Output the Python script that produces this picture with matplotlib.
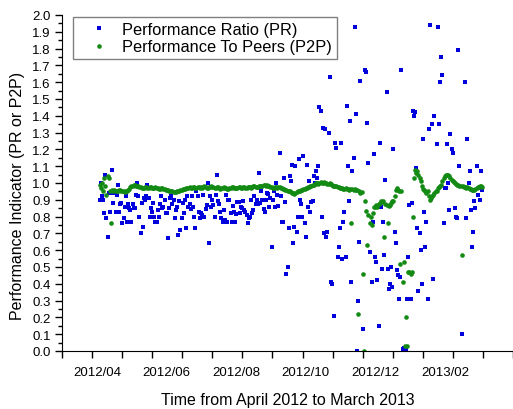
import numpy as np
import pandas as pd
import matplotlib
matplotlib.use("Agg")
import matplotlib.pyplot as plt
import matplotlib.dates as mdates
from matplotlib.ticker import AutoMinorLocator
from datetime import datetime

nan = np.nan

# Performance Ratio (PR), daily from 2012-04-03
pr_apr = [0.90, 1.00, 0.92, 0.90, 0.82, 1.05, 0.79, 0.68, 0.94, 0.83, 0.94, 1.08, 0.88, 0.94,
          0.83, 0.93, 0.99, 0.83, 0.875, 0.88, 0.76, 0.79, 0.86, 0.92, 0.77, 0.875, 0.85, 0.84]
pr_may = [0.77, 0.875, 0.85, 0.85, 0.93, 1.00, 0.92, 0.80, 0.70, 0.88, 0.74, 0.91, 0.90, 0.92,
          0.99, 0.91, 0.80, 0.85, 0.83, 0.88, 0.80, 0.77, 0.77, 0.84, 0.80, 0.875, 0.92, 0.85,
          0.86, 0.90, 0.82]
pr_jun = [0.82, 0.67, 0.85, 0.91, 0.92, 0.875, 0.90, 0.79, 0.84, 0.86, 0.69, 0.89, 0.72, 0.79,
          0.88, 0.82, 0.90, 0.73, 0.92, 0.86, 0.875, 0.845, 0.92, 0.86, 0.80, 0.73, 0.95, 0.92,
          0.83, 0.79]
pr_jul = [0.82, 0.81, 0.93, 0.80, 0.845, 0.87, 1.00, 0.64, 0.92, 0.86, 0.90, 0.87, 0.80, 0.93,
          1.05, 0.89, 0.875, 0.83, 0.79, 0.77, 0.84, 0.78, 0.93, 0.77, 0.90, 0.90, 0.82, 0.77,
          0.865, 0.83, 0.77]
pr_aug = [0.815, 0.885, 0.885, 0.82, 0.86, 0.85, 0.89, 0.84, 0.83, 0.81, 0.76, 0.79, 0.80, 0.90,
          0.82, 0.84, 0.92, 0.875, 0.90, 0.875, 1.06, 0.88, 0.95, 0.90, 0.845, 0.83, 0.90, 0.94,
          0.935, 0.86, 0.91]
pr_sep = [0.62, 0.90, 0.95, 0.86, 1.00, 0.93, 0.865, 1.18, 0.92, 0.77, 0.77, 1.03, 0.885, 0.46,
          0.50, 0.73, 1.04, 1.01, 1.11, 0.64, 0.74, 1.10, 0.71, 0.80, 1.14, 0.90, 0.875, 0.80,
          1.16, 0.76]
pr_oct = [0.68, 1.11, 0.86, 1.01, 0.83, 0.885, 0.89, 1.04, 1.00, 1.07, 1.03, 1.10, 1.45, 1.43,
          0.80, 1.33, 0.70, 1.32, 0.68, 0.71, 1.30, 1.63, 0.41, 0.40, nan, 0.21, 1.24, 1.21,
          0.56, 0.62, 0.73]
pr_nov = [1.24, 0.55, 0.77, 0.83, 0.56, 1.46, 1.10, 0.89, 1.37, 0.41, 1.07, 1.15, 1.93, 1.41,
          0.00, 0.30, 0.65, 1.61, nan, 0.13, nan, 1.67, 1.66, 1.36, 1.12, 0.59, nan, 0.41,
          0.77, 1.17]
pr_dec = [0.56, 0.53, 0.42, 0.15, 1.24, 0.86, 0.49, 0.77, 0.57, 1.02, 1.54, 0.49, 0.37, 0.40,
          0.50, 0.38, 1.20, 0.71, 0.64, 0.48, 0.45, 0.31, 0.44, 1.67, 0.01, 0.02, 0.00, 0.01,
          0.31, 0.56, 0.87]
pr_jan = [0.31, 0.88, 1.43, 1.40, 1.42, 1.09, 0.73, 0.36, 0.70, 0.60, 0.40, 1.26, 0.83, 0.62,
          0.77, 0.31, 1.32, 1.94, nan, 1.35, 0.43, 1.40, nan, 1.23, 1.93, 1.35, 1.60, 1.75,
          1.64, 0.76, 0.97]
pr_feb = [0.97, 1.23, 1.00, 0.84, 1.29, 1.20, 1.18, nan, 0.85, 0.80, 0.79, 1.79, 1.10, nan,
          0.10, nan, nan, 1.60, 0.79, 1.26, 1.00, 1.07, 0.84, 0.62, 0.71, 0.89, 0.85, 1.10]
pr_mar = [0.93, 0.97, 0.90, 1.07, 0.96]

# Performance To Peers (P2P)
p2p_apr = [0.99, 0.97, 1.00, 0.95, 1.03, 0.98, 0.93, 1.04, 1.03, 0.95, 0.76, 0.96, 0.955, 0.96,
           0.955, 0.95, 0.955, 0.96, 0.96, 0.955, 0.95, 0.95, 0.945, 0.95, 0.955, 0.96, 0.965, 0.975]
p2p_may = [0.98, 0.985, 0.99, 0.99, 0.985, 0.985, 0.98, 0.975, 0.975, 0.97, 0.97, 0.97, 0.975,
           0.975, 0.97, 0.97, 0.975, 0.975, 0.97, 0.97, 0.97, 0.975, 0.97, 0.97, 0.965, 0.965,
           0.97, 0.97, 0.965, 0.965, 0.96]
p2p_jun = [0.96, 0.96, 0.955, 0.955, 0.95, 0.95, 0.945, 0.945, 0.945, 0.95, 0.95, 0.955, 0.96,
           0.96, 0.965, 0.965, 0.965, 0.97, 0.97, 0.97, 0.975, 0.97, 0.97, 0.975, 0.975, 0.97,
           0.97, 0.975, 0.975, 0.97]
p2p_jul = [0.975, 0.97, 0.975, 0.98, 0.975, 0.97, 0.97, 0.975, 0.975, 0.98, 0.975, 0.975, 0.97,
           0.97, 0.975, 0.975, 0.97, 0.965, 0.97, 0.97, 0.975, 0.97, 0.97, 0.965, 0.965, 0.97,
           0.97, 0.975, 0.975, 0.97, 0.97]
p2p_aug = [0.97, 0.97, 0.975, 0.975, 0.97, 0.97, 0.975, 0.975, 0.97, 0.97, 0.975, 0.975, 0.975,
           0.97, 0.975, 0.98, 0.98, 0.975, 0.975, 0.975, 0.98, 0.98, 0.985, 0.985, 0.99, 0.99,
           0.985, 0.99, 0.985, 0.98, 0.975]
p2p_sep = [0.975, 0.97, 0.97, 0.975, 0.975, 0.97, 0.975, 0.975, 0.97, 0.97, 0.965, 0.965, 0.96,
           0.96, 0.955, 0.95, 0.95, 0.945, 0.94, 0.94, 0.935, 0.94, 0.945, 0.95, 0.955, 0.955,
           0.96, 0.96, 0.965, 0.965]
p2p_oct = [0.97, 0.97, 0.975, 0.975, 0.98, 0.985, 0.99, 0.99, 0.995, 1.0, 1.0, 0.995, 1.0, 1.005,
           1.0, 1.0, 1.005, 1.0, 1.0, 0.995, 0.995, 1.0, 0.995, 0.99, 0.985, 0.985, 0.98, 0.98,
           0.975, 0.975, 0.97]
p2p_nov = [0.97, 0.97, 0.965, 0.965, 0.97, 0.965, 0.965, 0.96, 0.965, 0.76, 0.965, 0.96, 0.965,
           0.96, 0.96, 0.22, 0.955, 0.94, 0.945, 0.46, 0.00, 0.89, 0.835, 0.63, 0.81, 0.76, 0.80,
           0.75, 0.82, 0.86]
p2p_dec = [0.86, 0.87, 0.86, 0.875, 0.88, 0.89, 0.885, 0.89, 0.68, 0.875, 0.87, 0.76, 0.865,
           0.87, 0.88, 0.89, 0.895, 0.92, 0.96, 0.97, 0.96, 0.955, 0.52, 0.955, 0.41, 0.53, 0.03,
           0.20, 0.03, 0.47, 0.47]
p2p_jan = [0.46, 0.47, 0.80, 1.03, 1.08, 1.06, 1.07, 1.05, 1.03, 1.01, 0.98, 0.965, 0.96, 0.955,
           0.94, 0.95, 0.92, 0.90, 0.91, 0.92, 0.93, 0.94, 0.95, 0.955, 0.97, 0.975, 0.98, 0.99,
           1.01, 1.03, 1.04]
p2p_feb = [1.045, 1.05, 1.05, 1.04, 1.03, 1.02, 1.01, 1.005, 1.0, 0.995, 0.99, 0.99, 0.985, 0.98,
           0.57, 0.98, 0.975, 0.975, 0.97, 0.975, 0.97, 0.965, 0.965, 0.96, 0.96, 0.96, 0.965, 0.97]
p2p_mar = [0.975, 0.975, 0.98, 0.98, 0.975]

pr = (pr_apr + pr_may + pr_jun + pr_jul + pr_aug + pr_sep + pr_oct + pr_nov + pr_dec
      + pr_jan + pr_feb + pr_mar)
p2p = (p2p_apr + p2p_may + p2p_jun + p2p_jul + p2p_aug + p2p_sep + p2p_oct + p2p_nov
       + p2p_dec + p2p_jan + p2p_feb + p2p_mar)
dates = pd.date_range("2012-04-03", periods=len(pr), freq="D")

tick_months = ["2012-04-01", "2012-06-01", "2012-08-01", "2012-10-01", "2012-12-01", "2013-02-01"]
tick_labels = ["2012/04", "2012/06", "2012/08", "2012/10", "2012/12", "2013/02"]

plt.rcParams['font.family'] = ['Liberation Sans', 'DejaVu Sans']

fig = plt.figure(figsize=(5.13, 4.10), dpi=100)
ax = fig.add_axes([62 / 513, 58 / 410, 451 / 513, 336 / 410])

ax.plot(dates, pr, 's', color='#0000dd', ms=2.9, mew=0, label='Performance Ratio (PR)')
ax.plot(dates, p2p, 'o', color='#138a13', ms=3.3, mew=0, label='Performance To Peers (P2P)')

x0 = datetime(2012, 3, 1)
x1 = datetime(2013, 4, 1)
ax.set_xlim(x0, x1)
ax.set_ylim(0, 2.0)

ax.spines['top'].set_visible(False)
ax.spines['right'].set_visible(False)

ax.set_xticks(pd.to_datetime(tick_months))
ax.set_xticklabels(tick_labels)
ax.set_xticks(np.linspace(mdates.date2num(x0), mdates.date2num(x1), 16), minor=True)
ax.tick_params(axis='x', which='major', length=0, pad=11, labelsize=9.5)
ax.tick_params(axis='x', which='minor', length=5, width=1, direction='out')

yt = np.round(np.arange(0, 2.01, 0.1), 1)
ax.set_yticks(yt)
ax.set_yticklabels([f"{v:.1f}" for v in yt])
ax.yaxis.set_minor_locator(AutoMinorLocator(2))
ax.tick_params(axis='y', which='major', length=5, width=1, pad=3, labelsize=9.5)
ax.tick_params(axis='y', which='minor', length=3, width=1)

fig.text(288 / 513, 1 - 401 / 410, 'Time from April 2012 to March 2013',
         ha='center', va='center', fontsize=11.5)
fig.text(18 / 513, 1 - 196 / 410, 'Performance Indicator (PR or P2P)',
         ha='center', va='center', rotation=90, fontsize=11.5)

leg = ax.legend(loc='upper left', bbox_to_anchor=((73 - 62) / 451, (352 - 18) / 336),
                borderaxespad=0, fontsize=11.8, fancybox=False, framealpha=1,
                edgecolor='#808080', handlelength=2.6, handletextpad=0.1,
                borderpad=0.3, labelspacing=0.15)
leg.get_frame().set_linewidth(1.0)

fig.savefig('out.png', dpi=100)
